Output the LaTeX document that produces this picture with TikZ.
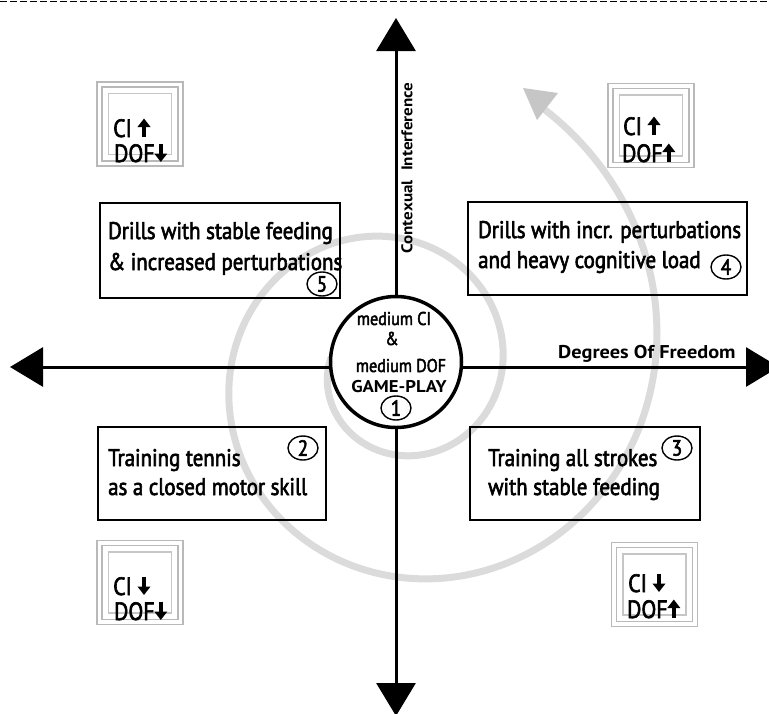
\documentclass[tikz,border=0pt]{standalone}
\usepackage{fontspec}
\setmainfont{PT Sans}[FakeStretch=0.87]
\newfontfamily\mainf{PT Sans}[FakeStretch=0.87, FakeBold=2.5]
\newfontfamily\labf{PT Sans}[FakeStretch=1.1]
\usetikzlibrary{arrows.meta,shapes.geometric}
\newcommand\uparr{\tikz[baseline=0pt,x=1pt,y=1pt]\draw[line width=4pt,-{Triangle[length=8.5pt,width=12.5pt]}] (0,0) -- (0,18.5);}
\newcommand\dnarr{\tikz[baseline=0pt,x=1pt,y=1pt]\draw[line width=4pt,-{Triangle[length=8.5pt,width=12.5pt]}] (0,18.5) -- (0,0);}
\newcommand\boxfont{\mainf\fontsize{24}{30}\selectfont}
\newcommand\tripleframe[3]{%
  \node[frA] (#1a) at (#2,#3) {};
  \node[frB] (#1b) at (#2,#3) {};
  \node[frC] (#1c) at (#2,#3) {};}
\tikzset{
  axisline/.style={line width=3pt},
  bigtip/.tip={Triangle[length=33pt,width=39pt]},
  qbox/.style={draw, line width=2.7pt, inner sep=0pt},
  frA/.style={draw=gray!55, line width=1.2pt, minimum width=86pt, minimum height=84pt, inner sep=0pt},
  frB/.style={draw=gray!55, line width=1.2pt, minimum width=76pt, minimum height=74pt, inner sep=0pt},
  frC/.style={draw=gray!45, line width=1.6pt, minimum width=63pt, minimum height=61pt, inner sep=0pt},
  txt/.style={anchor=base west, inner sep=0pt, font=\boxfont},
  stxt/.style={anchor=base west, inner sep=0pt, font=\mainf\fontsize{25}{25}\selectfont},
  numc/.style={ellipse, draw, line width=1.4pt, minimum width=30pt, minimum height=24pt, inner sep=0pt, font=\mainf\fontsize{22}{22}\selectfont},
  ctxt/.style={anchor=base, inner sep=0pt, font=\mainf\fontsize{18.5}{18.5}\selectfont},
  spiral/.style={draw=gray!28, line width=7pt, line cap=round},
}
\begin{document}
\begin{tikzpicture}[x=1pt,y=-1pt]
\useasboundingbox (0,0) rectangle (769,713);
% top dashed border
\coordinate (dl) at (0,1.5);
\coordinate (dr) at (769,1.5);
\draw[line width=1pt, dash pattern=on 7pt off 3pt] (dl) -- (dr);
% spiral
\draw[spiral] plot[domain=170:780, samples=300, smooth]
  ({396+68*exp(0.002479*(\x-180))*cos(\x)}, {370-68*exp(0.002479*(\x-180))*sin(\x)});
\fill[gray!45] (523,88) -- (558,93) -- (537,120) -- cycle;
% axes
\coordinate (L) at (10,367);
\coordinate (R) at (779,367);
\coordinate (T) at (396,18);
\coordinate (B) at (396,716);
\draw[axisline, bigtip-bigtip] (L) -- (R);
\draw[axisline, bigtip-bigtip] (T) -- (B);
% axis labels
\node[rotate=90, anchor=center, inner sep=0pt, font=\labf\bfseries\fontsize{15.5}{15.5}\selectfont] (cilab) at (407,168) {Contexual\hspace{5pt} Interference};
\node[anchor=base west, inner sep=0pt, font=\labf\bfseries\fontsize{18.5}{18.5}\selectfont] (doflab) at (558,358) {Degrees Of Freedom};
% centre
\node[circle, draw, line width=3.5pt, fill=white, minimum size=131pt, inner sep=0pt] (ctr) at (396,362) {};
\node[ctxt] (c1) at (394,325) {medium CI};
\node[ctxt] (c2) at (392,345) {\&};
\node[ctxt] (c3) at (401,372) {medium DOF};
\node[ctxt, font=\labf\bfseries\fontsize{17}{17}\selectfont] (c4) at (399,392) {GAME-PLAY};
\node[numc] (n1) at (396,408) {1};
% quadrant boxes
\node[qbox, minimum width=240pt, minimum height=95pt] (b5) at (220,250.5) {};
\node[txt] (t5a) at (108,239) {Drills with stable feeding};
\node[txt] (t5b) at (108,270) {\& increased perturbations};
\node[numc] (n5) at (322,284) {5};
\node[qbox, minimum width=279pt, minimum height=93pt] (b4) at (607.5,248.5) {};
\node[txt] (t4a) at (478,238) {Drills with incr. perturbations};
\node[txt] (t4b) at (478,268) {and heavy cognitive load};
\node[numc] (n4) at (726,267) {4};
\node[qbox, minimum width=228pt, minimum height=93pt] (b2) at (212,473.5) {};
\node[txt] (t2a) at (108,466) {Training tennis};
\node[txt] (t2b) at (108,495) {as a closed motor skill};
\node[numc] (n2) at (303,448) {2};
\node[qbox, minimum width=230pt, minimum height=93pt] (b3) at (585,473.5) {};
\node[txt] (t3a) at (488,466) {Training all strokes};
\node[txt] (t3b) at (488,495) {with stable feeding};
\node[numc] (n3) at (677,448) {3};
% small framed boxes
\tripleframe{s1}{140}{124}
\node[stxt] (s1t1) at (113,137) {CI \uparr};
\node[stxt] (s1t2) at (114,162) {DOF\dnarr};
\tripleframe{s2}{651}{125.5}
\node[stxt] (s2t1) at (623,135) {CI \uparr};
\node[stxt] (s2t2) at (622,162) {DOF\uparr};
\tripleframe{s3}{140}{582.5}
\node[stxt] (s3t1) at (113,595) {CI \dnarr};
\node[stxt] (s3t2) at (114,620) {DOF\dnarr};
\tripleframe{s4}{654.5}{584.5}
\node[stxt] (s4t1) at (628,592) {CI \dnarr};
\node[stxt] (s4t2) at (627,618) {DOF\uparr};
\end{tikzpicture}
\end{document}
